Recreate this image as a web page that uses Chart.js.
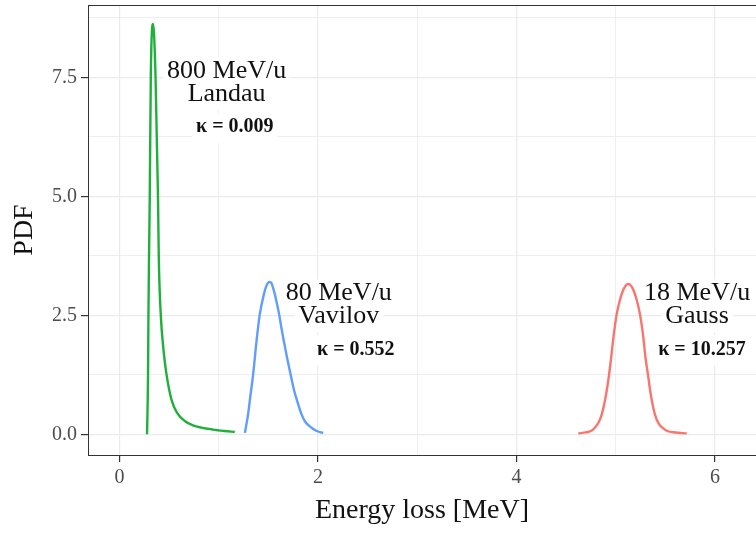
<!DOCTYPE html>
<html>
<head>
<meta charset="utf-8">
<script src="https://cdn.jsdelivr.net/npm/chart.js@4"></script>
<style>
  html, body { margin: 0; padding: 0; background: #ffffff; }
  #wrap { width: 756px; height: 533px; }
</style>
</head>
<body>
<div id="wrap"><canvas id="lossChart" width="756" height="533"></canvas></div>
<script>
// Energy loss distributions
const landauX = [0.278, 0.288, 0.292, 0.298, 0.305, 0.316, 0.339, 0.363, 0.376, 0.389, 0.396, 0.416, 0.445, 0.474, 0.524, 0.581, 0.658, 0.740, 0.827, 0.940, 1.061, 1.162];
const landauY = [0.00, 1.26, 2.52, 3.74, 4.93, 7.55, 8.62, 7.55, 6.22, 4.89, 3.74, 2.52, 1.75, 1.26, 0.73, 0.45, 0.28, 0.19, 0.14, 0.10, 0.07, 0.05];

const vavilovX = [1.264, 1.273, 1.296, 1.320, 1.347, 1.381, 1.414, 1.455, 1.480, 1.500, 1.515, 1.530, 1.545, 1.566, 1.585, 1.609, 1.630, 1.656, 1.690, 1.724, 1.760, 1.800, 1.835, 1.870, 1.935, 2.000, 2.053];
const vavilovY = [0.03, 0.14, 0.42, 0.82, 1.26, 1.96, 2.52, 2.94, 3.12, 3.19, 3.20, 3.18, 3.10, 2.94, 2.76, 2.52, 2.26, 1.96, 1.60, 1.26, 0.92, 0.64, 0.42, 0.27, 0.14, 0.06, 0.03];

const gaussX = [4.623, 4.700, 4.750, 4.790, 4.830, 4.860, 4.900, 4.930, 4.955, 4.980, 5.010, 5.040, 5.070, 5.100, 5.127, 5.155, 5.185, 5.215, 5.245, 5.275, 5.300, 5.325, 5.355, 5.395, 5.435, 5.470, 5.520, 5.600, 5.716];
const gaussY = [0.02, 0.04, 0.07, 0.14, 0.26, 0.42, 0.80, 1.20, 1.62, 2.08, 2.52, 2.80, 3.00, 3.12, 3.16, 3.12, 3.00, 2.80, 2.52, 2.10, 1.62, 1.26, 0.82, 0.42, 0.22, 0.14, 0.07, 0.04, 0.02];

const xTickLabels = ['0', '2', '4', '6'];
const yTickLabels = ['0.0', '2.5', '5.0', '7.5'];

const beamEnergies = ['800 MeV/u', '80 MeV/u', '18 MeV/u'];
const modelNames = ['Landau', 'Vavilov', 'Gauss'];
const kappaTexts = ['\u03ba = 0.009', '\u03ba = 0.552', '\u03ba = 10.257'];

// label anchors, in data units
const labelX = [1.08, 2.21, 5.82];
const labelY = [7.63, 2.96, 2.96];
const kappaX = [1.162, 2.382, 5.870];

function toPoints(xs, ys) {
    return xs.map(function(v, i) { return {x: v, y: ys[i]}; });
}

const serif = '"Liberation Serif", "DejaVu Serif", serif';

const frameAndLabels = {
    id: 'frameAndLabels',
    beforeDatasetsDraw: function(chart) {
        const ctx = chart.ctx;
        const area = chart.chartArea;
        ctx.save();
        ctx.strokeStyle = '#333333';
        ctx.lineWidth = 1;
        ctx.beginPath();
        ctx.moveTo(area.left, area.top + 0.5);
        ctx.lineTo(area.right, area.top + 0.5);
        ctx.stroke();
        ctx.restore();
    },
    afterDatasetsDraw: function(chart) {
        const ctx = chart.ctx;
        const xs = chart.scales.x;
        const ys = chart.scales.y;
        ctx.save();
        ctx.textAlign = 'center';
        ctx.textBaseline = 'middle';
        for (let i = 0; i < beamEnergies.length; i++) {
            const cx = xs.getPixelForValue(labelX[i]);
            const cy = ys.getPixelForValue(labelY[i]);
            const kx = xs.getPixelForValue(kappaX[i]);
            const lines = [
                {text: beamEnergies[i], x: cx, y: cy, font: '26px ' + serif},
                {text: modelNames[i], x: cx, y: cy + 23, font: '26px ' + serif},
                {text: kappaTexts[i], x: kx, y: cy + 56, font: 'bold 20px ' + serif}
            ];
            // white label boxes first
            lines.forEach(function(l) {
                ctx.font = l.font;
                const w = ctx.measureText(l.text).width;
                ctx.fillStyle = '#ffffff';
                ctx.fillRect(l.x - w / 2 - 4, l.y - 14, w + 8, 30);
            });
            lines.forEach(function(l) {
                ctx.font = l.font;
                ctx.fillStyle = '#111111';
                ctx.fillText(l.text, l.x, l.y);
            });
        }
        ctx.restore();
    }
};

const ctx = document.getElementById('lossChart').getContext('2d');
const lossChart = new Chart(ctx, {
    type: 'scatter',
    data: {
        datasets: [{
            label: 'Landau',
            data: toPoints(landauX, landauY),
            borderColor: '#1fb03c',
            showLine: true
        }, {
            label: 'Vavilov',
            data: toPoints(vavilovX, vavilovY),
            borderColor: '#619CFF',
            showLine: true
        }, {
            label: 'Gauss',
            data: toPoints(gaussX, gaussY),
            borderColor: '#F8766D',
            showLine: true
        }]
    },
    options: {
        responsive: false,
        animation: false,
        devicePixelRatio: 1,
        layout: { padding: { top: 5, right: 0, bottom: 0, left: 0 } },
        elements: {
            point: { radius: 0, hoverRadius: 0 },
            line: { borderWidth: 2.4, cubicInterpolationMode: 'monotone', fill: false }
        },
        plugins: {
            legend: { display: false },
            tooltip: { enabled: false }
        },
        scales: {
            x: {
                type: 'linear',
                min: -0.317,
                max: 6.414,
                afterFit: function(scale) {
                    scale.height = 78;
                    scale.paddingLeft = 0;
                    scale.paddingRight = 0;
                },
                border: { color: '#333333', width: 1 },
                grid: {
                    color: '#ebebeb',
                    lineWidth: function(c) { return c.tick && c.tick.value % 2 === 0 ? 1.2 : 0.8; },
                    tickColor: function(c) { return c.tick && c.tick.value % 2 === 0 ? '#333333' : 'rgba(0,0,0,0)'; },
                    tickLength: 7
                },
                ticks: {
                    stepSize: 1,
                    includeBounds: false,
                    autoSkip: false,
                    maxRotation: 0,
                    padding: 4,
                    color: '#4d4d4d',
                    font: { family: serif, size: 20 },
                    callback: function(v) {
                        const idx = xTickLabels.indexOf(String(v));
                        return idx >= 0 ? xTickLabels[idx] : '';
                    }
                },
                title: {
                    display: true,
                    text: 'Energy loss [MeV]',
                    color: '#111111',
                    font: { family: serif, size: 28 },
                    padding: { top: 0, bottom: 6 }
                }
            },
            y: {
                type: 'linear',
                min: -0.434,
                max: 9.02,
                afterFit: function(scale) {
                    scale.width = 88;
                    scale.paddingTop = 0;
                    scale.paddingBottom = 0;
                },
                border: { color: '#333333', width: 1 },
                grid: {
                    color: '#ebebeb',
                    lineWidth: function(c) { return c.tick && c.tick.value % 2.5 === 0 ? 1.2 : 0.8; },
                    tickColor: function(c) { return c.tick && c.tick.value % 2.5 === 0 ? '#333333' : 'rgba(0,0,0,0)'; },
                    tickLength: 7
                },
                ticks: {
                    stepSize: 1.25,
                    includeBounds: false,
                    autoSkip: false,
                    padding: 4,
                    color: '#4d4d4d',
                    font: { family: serif, size: 20 },
                    callback: function(v) {
                        const idx = yTickLabels.indexOf(v.toFixed(1));
                        return idx >= 0 ? yTickLabels[idx] : '';
                    }
                },
                title: {
                    display: true,
                    text: 'PDF',
                    color: '#111111',
                    font: { family: serif, size: 28 },
                    padding: { top: 8, bottom: 0 }
                }
            }
        }
    },
    plugins: [frameAndLabels]
});
</script>
</body>
</html>
